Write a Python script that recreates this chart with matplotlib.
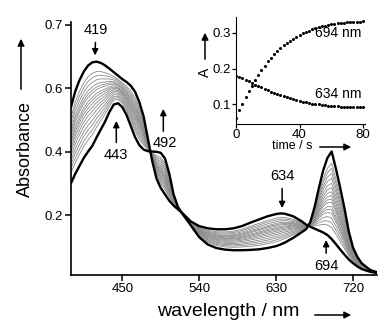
import numpy as np
import matplotlib
matplotlib.use('Agg')
import matplotlib.pyplot as plt

plt.rcParams['font.family'] = ['Liberation Sans', 'DejaVu Sans']

# spectra
wl = [390, 395, 400, 405, 410, 415, 420, 425, 430, 435, 440, 445, 450, 455, 460,
      465, 470, 475, 480, 485, 490, 495, 500, 505, 510, 515, 520, 530, 540, 550,
      560, 570, 580, 590, 600, 610, 620, 630, 635, 640, 650, 660, 665, 670, 675,
      680, 685, 690, 695, 700, 705, 710, 715, 720, 725, 730, 740, 750]
a_start = [0.540, 0.590, 0.625, 0.652, 0.671, 0.681, 0.683, 0.679, 0.671, 0.661,
           0.650, 0.639, 0.628, 0.619, 0.607, 0.588, 0.555, 0.510, 0.440, 0.370,
           0.315, 0.285, 0.265, 0.245, 0.230, 0.218, 0.207, 0.180, 0.165, 0.158,
           0.155, 0.155, 0.158, 0.165, 0.176, 0.186, 0.196, 0.203, 0.205, 0.204,
           0.196, 0.180, 0.170, 0.163, 0.157, 0.151, 0.145, 0.137, 0.124, 0.108,
           0.091, 0.075, 0.060, 0.048, 0.038, 0.030, 0.021, 0.016]
a_end = [0.300, 0.330, 0.355, 0.380, 0.400, 0.418, 0.445, 0.470, 0.495, 0.525,
         0.548, 0.552, 0.540, 0.515, 0.480, 0.445, 0.420, 0.406, 0.401, 0.400,
         0.399, 0.396, 0.378, 0.330, 0.265, 0.226, 0.205, 0.168, 0.130, 0.107,
         0.096, 0.091, 0.089, 0.089, 0.090, 0.092, 0.096, 0.102, 0.107, 0.113,
         0.128, 0.146, 0.155, 0.178, 0.225, 0.285, 0.340, 0.380, 0.400, 0.345,
         0.285, 0.220, 0.148, 0.097, 0.068, 0.048, 0.027, 0.018]
# peak heights at 694 nm of the grey intermediate traces
grey_694 = [0.160, 0.175, 0.190, 0.205, 0.216, 0.226, 0.240, 0.250, 0.261,
            0.273, 0.286, 0.300, 0.316, 0.331, 0.347, 0.363]

# kinetic traces (inset)
t = list(range(0, 82, 2))
k694 = [0.060, 0.082, 0.101, 0.119, 0.136, 0.152, 0.167, 0.181, 0.195, 0.208,
        0.220, 0.231, 0.241, 0.250, 0.258, 0.265, 0.272, 0.278, 0.284, 0.289,
        0.294, 0.299, 0.303, 0.307, 0.310, 0.313, 0.316, 0.319, 0.321, 0.323,
        0.325, 0.326, 0.327, 0.328, 0.329, 0.330, 0.331, 0.331, 0.332, 0.332, 0.333]
k634 = [0.179, 0.176, 0.172, 0.168, 0.164, 0.159, 0.155, 0.151, 0.147, 0.143,
        0.139, 0.135, 0.131, 0.128, 0.125, 0.122, 0.119, 0.116, 0.113, 0.111,
        0.109, 0.107, 0.105, 0.103, 0.101, 0.100, 0.099, 0.098, 0.097, 0.096,
        0.095, 0.094, 0.094, 0.093, 0.093, 0.092, 0.092, 0.092, 0.091, 0.091, 0.091]

W, H = 378, 324
def P(px, py):
    return px / W, 1 - py / H

fig = plt.figure(figsize=(W / 100, H / 100), dpi=100)
ax = fig.add_axes([71 / W, 1 - 275 / H, 306 / W, 253 / H])

a_s = np.array(a_start)
a_e = np.array(a_end)
i694 = wl.index(695)
for g in grey_694:
    f = (g - a_s[i694]) / (a_e[i694] - a_s[i694])
    ax.plot(wl, a_s * (1 - f) + a_e * f, color='#8a8a8a', lw=0.6)
ax.plot(wl, a_start, color='black', lw=1.7)
ax.plot(wl, a_end, color='black', lw=1.7)

ax.set_xlim(390, 748)
ax.set_ylim(0.011, 0.808)
ax.set_xticks([450, 540, 630, 720])
ax.set_yticks([0.2, 0.4, 0.6, 0.8])
ax.set_yticklabels(['0.2', '0.4', '0.6', '0.7'])
for s in ['top', 'right']:
    ax.spines[s].set_visible(False)
for s in ['left', 'bottom']:
    ax.spines[s].set_linewidth(1.2)
ax.tick_params(direction='out', length=4, width=1.1, labelsize=9.5, pad=2)

ap = dict(arrowstyle='-|>', color='black', lw=1.1, mutation_scale=9)
ax.annotate('419', xy=(418, 0.694), xytext=(419, 0.783), ha='center', va='center',
            fontsize=10.5, arrowprops=ap)
ax.annotate('443', xy=(443, 0.505), xytext=(443, 0.389), ha='center', va='center',
            fontsize=10.5, arrowprops=ap)
ax.annotate('', xy=(498, 0.543), xytext=(498, 0.455), arrowprops=ap)
ax.text(500, 0.427, '492', ha='center', va='center', fontsize=10.5)
ax.annotate('634', xy=(637, 0.213), xytext=(637, 0.323), ha='center', va='center',
            fontsize=10.5, arrowprops=ap)
ax.annotate('694', xy=(688.5, 0.13), xytext=(688.5, 0.04), ha='center', va='center',
            fontsize=10.5, arrowprops=ap)

# axis titles with arrows
fig.text(*P(25, 149), 'Absorbance', rotation=90, ha='center', va='center', fontsize=13)
fig.text(*P(228, 311), 'wavelength / nm', ha='center', va='center', fontsize=14)
fap = dict(arrowstyle='-|>', color='black', lw=1.1, mutation_scale=10)
fig.add_artist(matplotlib.patches.FancyArrowPatch(P(21, 92), P(21, 36), transform=fig.transFigure, **fap))
fig.add_artist(matplotlib.patches.FancyArrowPatch(P(312, 315), P(354, 315), transform=fig.transFigure, **fap))

# inset
ins = fig.add_axes([236 / W, 1 - 124 / H, 128.6 / W, 107 / H])
ins.patch.set_alpha(0)
ins.plot(t, k694, 'o', color='black', ms=2.2, mew=0)
ins.plot(t, k634, 'o', color='black', ms=2.2, mew=0)
ins.set_xlim(0, 81)
ins.set_ylim(0.044, 0.345)
ins.set_xticks([0, 40, 80])
ins.set_yticks([0.1, 0.2, 0.3])
for s in ['top', 'right']:
    ins.spines[s].set_visible(False)
ins.tick_params(direction='out', length=3, width=0.9, labelsize=9.5, pad=0.5)
ins.text(79, 0.30, '694 nm', ha='right', va='center', fontsize=10)
ins.text(79, 0.128, '634 nm', ha='right', va='center', fontsize=10)
fig.text(*P(292, 146), 'time / s', ha='center', va='center', fontsize=9)
fig.text(*P(205, 72), 'A', rotation=90, ha='center', va='center', fontsize=10)
fig.add_artist(matplotlib.patches.FancyArrowPatch(P(317, 147), P(354, 147), transform=fig.transFigure, **fap))
fig.add_artist(matplotlib.patches.FancyArrowPatch(P(205, 62), P(205, 30), transform=fig.transFigure, **fap))

fig.savefig('out.png', dpi=100)
